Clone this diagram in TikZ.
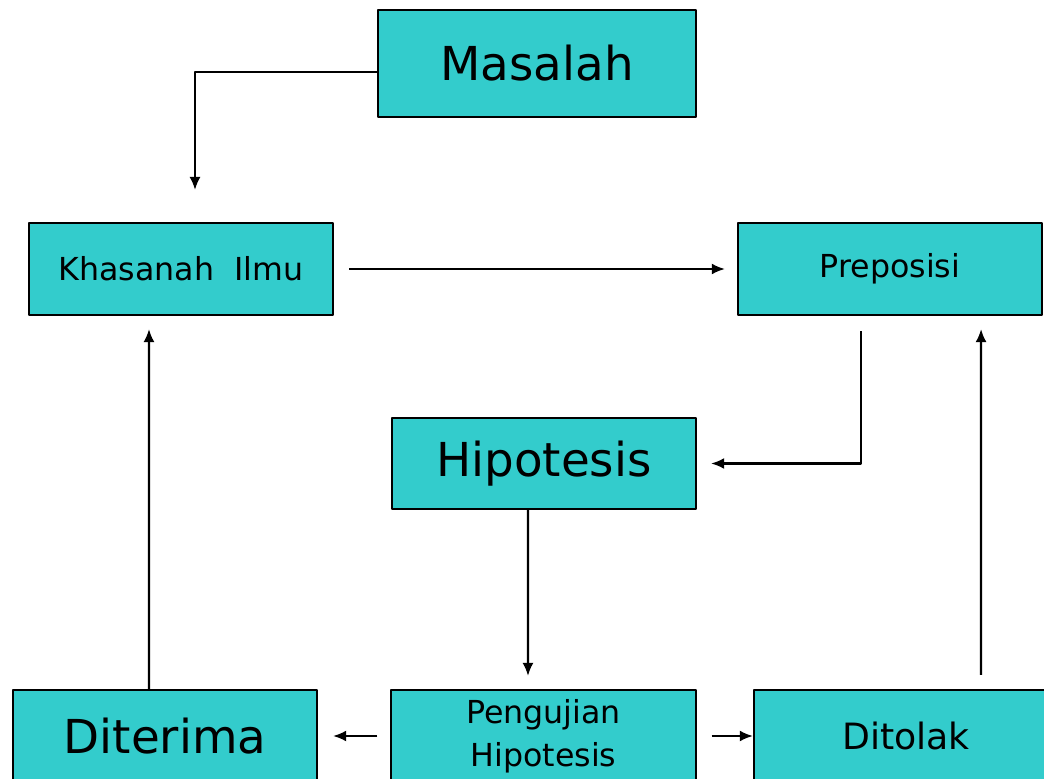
\documentclass[tikz,border=0pt]{standalone}
\usepackage{fontspec}
\setmainfont{DejaVu Sans}
\usetikzlibrary{positioning,arrows.meta}
\definecolor{toska}{HTML}{33CCCC}
\tikzset{
	kotak/.style={draw=black, fill=toska, line width=0.6pt, minimum width=3.04cm, minimum height=0.92cm, inner sep=0pt, align=center},
	besar/.style={font=\fontsize{13.3}{16}\selectfont},
	kecil/.style={font=\fontsize{9}{11}\selectfont},
	panah/.style={-{Latex[length=1.3mm,width=1.1mm]}, line width=0.6pt},
}
\begin{document}
\begin{tikzpicture}[x=0.01cm, y=-0.01cm, line join=round]
	\useasboundingbox (0,0) rectangle (1044,779);
	\clip (0,0) rectangle (1044,779);
	% kotak-kotak
	\node[kotak, besar, minimum width=3.18cm, minimum height=1.07cm] (masalah) at (537,63.5) {Masalah};
	\node[kotak, kecil] (khasanah) at (181,269) {Khasanah~~Ilmu};
	\node[kotak, kecil] (preposisi) at (890,269) {Preposisi};
	\node[kotak, besar, minimum height=0.91cm] (hipotesis) at (544,463.5) {\raisebox{-0.3ex}{Hipotesis}};
	\node[kotak, besar] (diterima) at (165,736) {Diterima};
	\node[kotak, font=\fontsize{9}{11.3}\selectfont] (pengujian) at (543.5,736) {\raisebox{-0.4ex}{\shortstack{Pengujian\\[0.5pt]Hipotesis}}};
	\node[kotak, font=\fontsize{10.3}{12}\selectfont] (ditolak) at (906,736) {Ditolak};
	% panah
	\coordinate (atasKh) at (195,190);
	\draw[panah] ([yshift=-0.85mm]masalah.west) -| (atasKh);
	\draw[panah] ([xshift=1.5mm]khasanah.east) -- ([xshift=-1.2mm]preposisi.west);
	\draw[panah] ([xshift=-2.9mm,yshift=-1.5mm]preposisi.south) |- ([xshift=1.4mm]hipotesis.east);
	\draw[panah] ([xshift=-1.6mm]hipotesis.south) -- ([xshift=-1.55mm,yshift=1.3mm]pengujian.north);
	\draw[panah] ([xshift=-1.3mm]pengujian.west) -- ([xshift=1.5mm]diterima.west -| diterima.east);
	\draw[panah] ([xshift=1.5mm]pengujian.east) -- (ditolak.west);
	\draw[panah] ([xshift=-1.6mm]diterima.north) -- ([xshift=-3.2mm,yshift=-1.3mm]khasanah.south);
	\draw[panah] ([xshift=7.5mm,yshift=1.4mm]ditolak.north) -- ([xshift=9.1mm,yshift=-1.3mm]preposisi.south);
\end{tikzpicture}
\end{document}
